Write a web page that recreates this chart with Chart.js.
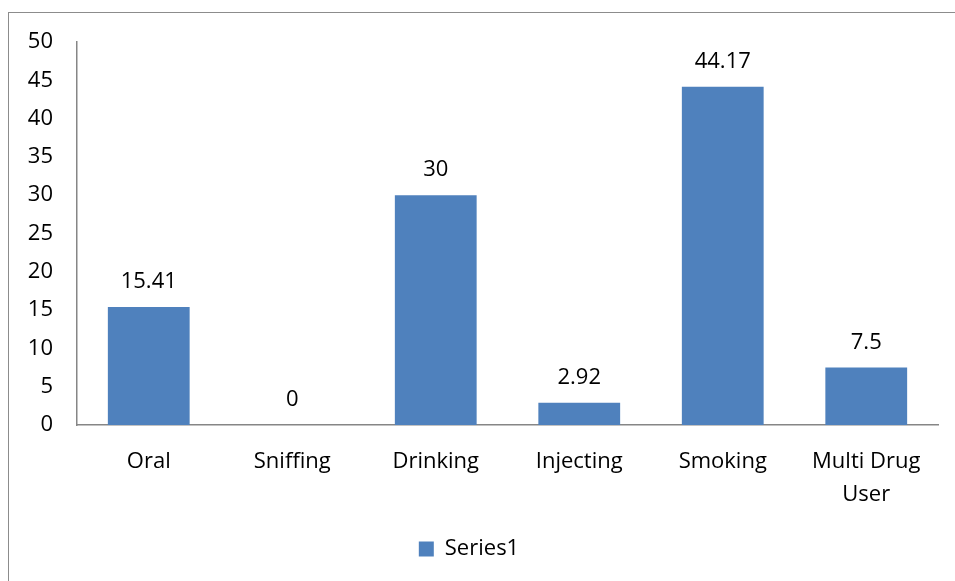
<!DOCTYPE html>
<html>
<head>
<meta charset="utf-8">
<script src="https://cdn.jsdelivr.net/npm/chart.js@4/dist/chart.umd.min.js"></script>
<style>
  html, body { margin: 0; padding: 0; background: #fff; overflow: hidden; }
  #wrap { position: relative; width: 955px; height: 581px; }
  #frame { position: absolute; left: 8px; top: 12px; width: 1200px; height: 1200px; border: 1px solid #8c8c8c; box-sizing: border-box; }
  canvas { position: absolute; left: 0; top: 0; }
</style>
</head>
<body>
<div id="wrap">
  <div id="frame"></div>
  <canvas id="c" width="955" height="581"></canvas>
</div>
<script>
const categories = ["Oral", "Sniffing", "Drinking", "Injecting", "Smoking", ["Multi Drug", "User"]];
const series1 = [15.41, 0, 30, 2.92, 44.17, 7.5];
const valueLabels = ["15.41", "0", "30", "2.92", "44.17", "7.5"];
const yTicks = [0, 5, 10, 15, 20, 25, 30, 35, 40, 45, 50];

const FONT = "'Open Sans', 'Noto Sans', sans-serif";

const dataLabelPlugin = {
  id: 'dataLabels',
  afterDatasetsDraw(chart) {
    const ctx = chart.ctx;
    const meta = chart.getDatasetMeta(0);
    ctx.save();
    ctx.font = "22px " + FONT;
    ctx.fillStyle = "#000";
    ctx.textAlign = "center";
    ctx.textBaseline = "middle";
    meta.data.forEach((bar, i) => {
      ctx.fillText(valueLabels[i], bar.x, bar.y - 25);
    });
    ctx.restore();
  }
};

new Chart(document.getElementById('c'), {
  type: 'bar',
  data: {
    labels: categories,
    datasets: [{
      label: 'Series1',
      data: series1,
      backgroundColor: '#4F81BD',
      borderWidth: 0,
      barPercentage: 0.57,
      categoryPercentage: 1.0
    }]
  },
  options: {
    responsive: false,
    animation: false,
    devicePixelRatio: 1,
    layout: { padding: { left: 0, right: 17, top: 42, bottom: 11 } },
    plugins: {
      legend: {
        position: 'bottom',
        labels: {
          boxWidth: 15, boxHeight: 15, padding: 10,
          color: '#000',
          font: { family: FONT, size: 22 }
        }
      },
      tooltip: { enabled: false }
    },
    scales: {
      x: {
        grid: { display: false, drawTicks: false },
        border: { display: true, color: '#868686', width: 1.5 },
        ticks: {
          color: '#000', padding: 20, maxRotation: 0, autoSkip: false,
          font: { family: FONT, size: 22, lineHeight: 1.5 }
        },
        afterFit(scale) { scale.height = 103; }
      },
      y: {
        min: 0, max: 50,
        afterBuildTicks(scale) { scale.ticks = yTicks.map(v => ({ value: v })); },
        grid: { display: false, drawTicks: false },
        border: { display: true, color: '#868686', width: 1.5 },
        ticks: {
          color: '#000', padding: 24,
          font: { family: FONT, size: 22 }
        },
        afterFit(scale) { scale.width = 77; }
      }
    }
  },
  plugins: [dataLabelPlugin]
});
</script>
</body>
</html>
